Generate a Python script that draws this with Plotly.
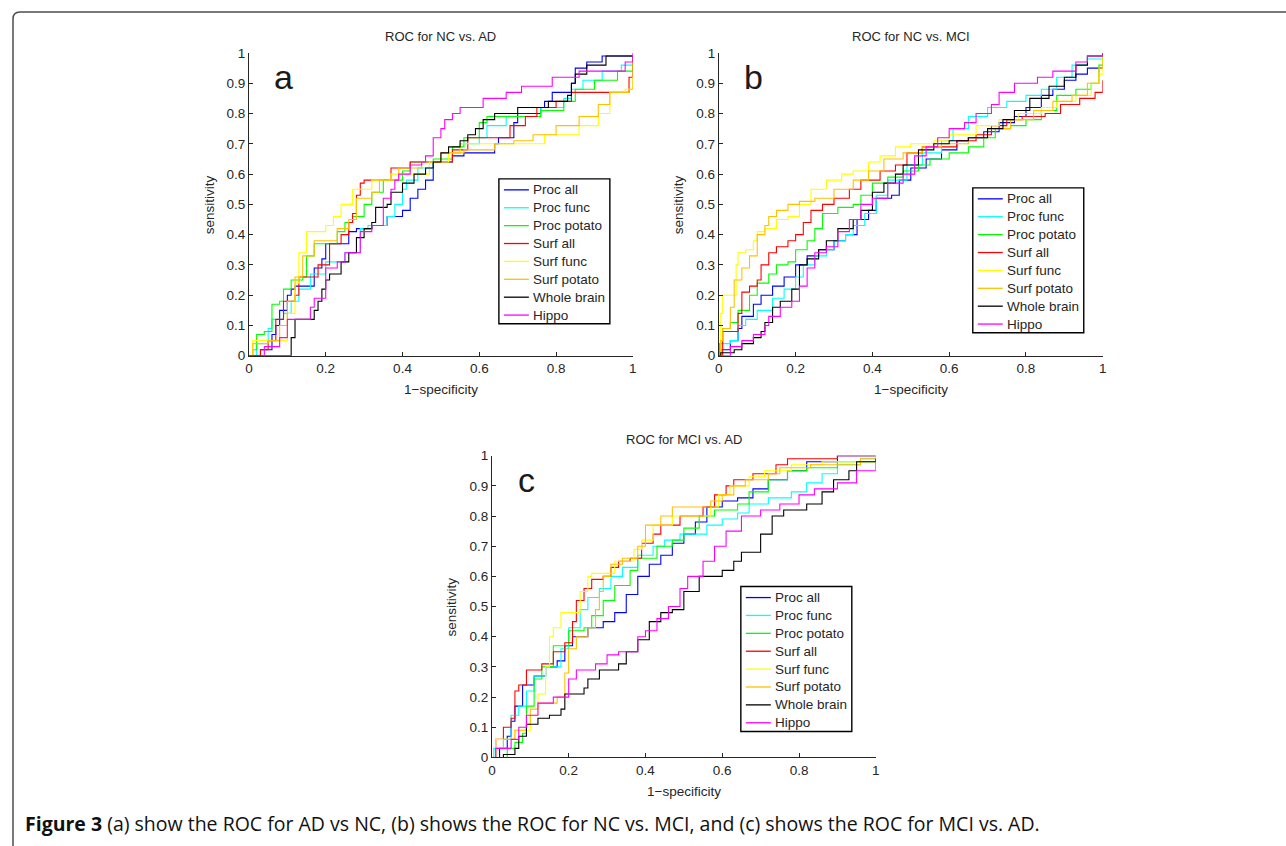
import plotly.graph_objects as go

W, H = 1286, 846

methods = ["Proc all", "Proc func", "Proc potato", "Surf all",
           "Surf func", "Surf potato", "Whole brain", "Hippo"]
colors = ["#0000ff", "#00ffff", "#00ff00", "#ff0000",
          "#ffff00", "#ffc000", "#000000", "#ff00ff"]

panel_titles = ["ROC for NC vs. AD", "ROC for NC vs. MCI", "ROC for MCI vs. AD"]
panel_letters = ["a", "b", "c"]
x_ticks = [0, 0.2, 0.4, 0.6, 0.8, 1]
y_ticks = [0, 0.1, 0.2, 0.3, 0.4, 0.5, 0.6, 0.7, 0.8, 0.9, 1]

# ROC points [1-specificity, sensitivity] (step corners)
# panel a: NC vs AD
a_proc_all = [[0, 0], [0.03, 0.02], [0.06, 0.07], [0.07, 0.1], [0.08, 0.15], [0.1, 0.2],
              [0.11, 0.22], [0.12, 0.23], [0.17, 0.29], [0.19, 0.32], [0.2, 0.37], [0.26, 0.41],
              [0.28, 0.42], [0.32, 0.43], [0.36, 0.46], [0.4, 0.48], [0.42, 0.52], [0.44, 0.55],
              [0.46, 0.58], [0.48, 0.64], [0.53, 0.66], [0.56, 0.67], [0.64, 0.7], [0.65, 0.72],
              [0.69, 0.77], [0.7, 0.8], [0.76, 0.82], [0.77, 0.84], [0.79, 0.87], [0.84, 0.9],
              [0.85, 0.95], [0.88, 0.97], [0.92, 0.99], [1, 0.99]]
a_proc_func = [[0, 0], [0.02, 0.04], [0.05, 0.09], [0.06, 0.12], [0.09, 0.14], [0.11, 0.18],
               [0.13, 0.22], [0.16, 0.27], [0.2, 0.31], [0.25, 0.34], [0.29, 0.42], [0.31, 0.43],
               [0.36, 0.46], [0.38, 0.5], [0.4, 0.55], [0.41, 0.58], [0.44, 0.62], [0.48, 0.64],
               [0.53, 0.67], [0.55, 0.7], [0.6, 0.72], [0.62, 0.76], [0.67, 0.79], [0.76, 0.82],
               [0.82, 0.85], [0.84, 0.88], [0.87, 0.91], [0.92, 0.94], [0.97, 0.96], [1, 0.98]]
a_proc_potato = [[0, 0], [0.01, 0.02], [0.02, 0.07], [0.04, 0.08], [0.06, 0.17], [0.08, 0.18],
                 [0.09, 0.22], [0.11, 0.25], [0.14, 0.26], [0.15, 0.33], [0.17, 0.37], [0.23, 0.41],
                 [0.25, 0.44], [0.27, 0.46], [0.3, 0.5], [0.32, 0.54], [0.35, 0.58], [0.4, 0.61],
                 [0.42, 0.64], [0.48, 0.65], [0.53, 0.69], [0.56, 0.72], [0.6, 0.77], [0.62, 0.79],
                 [0.76, 0.81], [0.82, 0.84], [0.85, 0.88], [0.9, 0.91], [0.96, 0.94], [1, 0.99]]
a_surf_all = [[0, 0], [0.03, 0.02], [0.05, 0.05], [0.07, 0.12], [0.09, 0.18], [0.12, 0.2],
              [0.13, 0.26], [0.18, 0.3], [0.21, 0.37], [0.24, 0.4], [0.26, 0.44], [0.27, 0.47],
              [0.28, 0.53], [0.29, 0.57], [0.3, 0.58], [0.37, 0.62], [0.42, 0.64], [0.5, 0.64],
              [0.53, 0.68], [0.57, 0.72], [0.68, 0.76], [0.72, 0.79], [0.75, 0.82], [0.8, 0.84],
              [0.84, 0.87], [0.99, 0.92], [1, 0.99]]
a_surf_func = [[0, 0], [0.01, 0.05], [0.08, 0.05], [0.1, 0.14], [0.12, 0.24], [0.13, 0.34],
               [0.15, 0.41], [0.2, 0.43], [0.22, 0.46], [0.24, 0.5], [0.27, 0.55], [0.32, 0.58],
               [0.37, 0.6], [0.47, 0.64], [0.52, 0.67], [0.55, 0.7], [0.77, 0.73], [0.86, 0.76],
               [0.91, 0.8], [0.94, 0.87], [0.98, 0.88], [1, 0.92]]
a_surf_potato = [[0, 0], [0.01, 0.04], [0.05, 0.05], [0.08, 0.1], [0.1, 0.18], [0.12, 0.26],
                 [0.14, 0.33], [0.17, 0.38], [0.23, 0.42], [0.26, 0.45], [0.28, 0.52], [0.32, 0.54],
                 [0.34, 0.58], [0.39, 0.62], [0.45, 0.64], [0.5, 0.67], [0.56, 0.68], [0.64, 0.7],
                 [0.69, 0.71], [0.74, 0.73], [0.8, 0.76], [0.86, 0.79], [0.91, 0.83], [0.94, 0.87],
                 [0.99, 0.88], [1, 0.97]]
a_whole_brain = [[0, 0], [0.11, 0.06], [0.12, 0.12], [0.17, 0.15], [0.18, 0.18], [0.19, 0.22],
                 [0.2, 0.25], [0.21, 0.27], [0.24, 0.31], [0.26, 0.34], [0.28, 0.39], [0.3, 0.42],
                 [0.32, 0.44], [0.33, 0.49], [0.36, 0.5], [0.37, 0.54], [0.4, 0.57], [0.43, 0.6],
                 [0.46, 0.62], [0.48, 0.64], [0.5, 0.67], [0.52, 0.69], [0.55, 0.71], [0.57, 0.73],
                 [0.59, 0.75], [0.61, 0.78], [0.64, 0.8], [0.7, 0.82], [0.78, 0.84], [0.83, 0.86],
                 [0.84, 0.9], [0.85, 0.93], [0.88, 0.96], [0.93, 0.99], [1, 0.99]]
a_hippo = [[0, 0], [0.04, 0.03], [0.08, 0.06], [0.1, 0.12], [0.16, 0.16], [0.17, 0.19],
           [0.2, 0.29], [0.23, 0.31], [0.25, 0.34], [0.29, 0.41], [0.32, 0.43], [0.35, 0.52],
           [0.37, 0.55], [0.38, 0.58], [0.39, 0.6], [0.42, 0.63], [0.45, 0.64], [0.46, 0.66],
           [0.48, 0.72], [0.5, 0.75], [0.51, 0.78], [0.53, 0.8], [0.55, 0.82], [0.61, 0.85],
           [0.67, 0.87], [0.71, 0.89], [0.79, 0.92], [0.86, 0.94], [0.98, 0.97], [1, 1]]

# panel b: NC vs MCI
b_proc_all = [[0, 0], [0.005, 0.02], [0.03, 0.05], [0.05, 0.09], [0.06, 0.13], [0.09, 0.17],
              [0.11, 0.2], [0.14, 0.23], [0.17, 0.26], [0.2, 0.3], [0.23, 0.33], [0.26, 0.35],
              [0.3, 0.38], [0.33, 0.4], [0.36, 0.45], [0.39, 0.48], [0.41, 0.52], [0.45, 0.53],
              [0.47, 0.58], [0.5, 0.62], [0.54, 0.65], [0.58, 0.68], [0.62, 0.71], [0.65, 0.72],
              [0.69, 0.74], [0.73, 0.77], [0.77, 0.79], [0.8, 0.82], [0.84, 0.86], [0.87, 0.88],
              [0.9, 0.91], [0.93, 0.93], [0.96, 0.95], [1, 0.97]]
b_proc_func = [[0, 0], [0.005, 0.04], [0.03, 0.05], [0.05, 0.1], [0.07, 0.12], [0.1, 0.15],
               [0.14, 0.19], [0.17, 0.22], [0.2, 0.26], [0.22, 0.3], [0.25, 0.33], [0.28, 0.35],
               [0.3, 0.38], [0.33, 0.4], [0.35, 0.43], [0.38, 0.47], [0.41, 0.53], [0.44, 0.58],
               [0.49, 0.63], [0.53, 0.67], [0.58, 0.71], [0.61, 0.75], [0.65, 0.79], [0.7, 0.82],
               [0.75, 0.84], [0.8, 0.86], [0.84, 0.88], [0.88, 0.92], [0.92, 0.96], [0.96, 0.98],
               [1, 0.99]]
b_proc_potato = [[0, 0], [0.002, 0.04], [0.01, 0.09], [0.03, 0.11], [0.05, 0.15], [0.08, 0.2],
                 [0.1, 0.24], [0.13, 0.27], [0.15, 0.3], [0.18, 0.31], [0.2, 0.35], [0.23, 0.38],
                 [0.25, 0.42], [0.27, 0.47], [0.31, 0.49], [0.35, 0.5], [0.37, 0.53], [0.4, 0.57],
                 [0.44, 0.59], [0.48, 0.61], [0.52, 0.63], [0.55, 0.65], [0.6, 0.67], [0.65, 0.69],
                 [0.69, 0.72], [0.72, 0.75], [0.76, 0.76], [0.8, 0.78], [0.84, 0.81], [0.88, 0.86],
                 [0.93, 0.88], [0.97, 0.9], [0.99, 0.96], [1, 1]]
b_surf_all = [[0, 0], [0.01, 0.08], [0.04, 0.08], [0.05, 0.14], [0.06, 0.21], [0.08, 0.23],
              [0.1, 0.25], [0.11, 0.3], [0.13, 0.34], [0.15, 0.36], [0.18, 0.38], [0.2, 0.4],
              [0.22, 0.44], [0.24, 0.48], [0.27, 0.5], [0.3, 0.52], [0.34, 0.55], [0.37, 0.58],
              [0.42, 0.61], [0.46, 0.63], [0.49, 0.67], [0.53, 0.69], [0.62, 0.71], [0.67, 0.73],
              [0.71, 0.76], [0.75, 0.78], [0.79, 0.79], [0.85, 0.8], [0.89, 0.83], [0.94, 0.85],
              [0.98, 0.87], [1, 0.91]]
b_surf_func = [[0, 0], [0.005, 0.14], [0.01, 0.2], [0.03, 0.2], [0.045, 0.3], [0.05, 0.34],
               [0.07, 0.35], [0.09, 0.38], [0.1, 0.41], [0.12, 0.42], [0.15, 0.45], [0.18, 0.46],
               [0.21, 0.5], [0.24, 0.55], [0.28, 0.58], [0.32, 0.6], [0.35, 0.61], [0.39, 0.64],
               [0.42, 0.66], [0.46, 0.69], [0.5, 0.7], [0.56, 0.71], [0.6, 0.73], [0.67, 0.76],
               [0.73, 0.78], [0.78, 0.8], [0.84, 0.82], [0.88, 0.84], [0.93, 0.86], [0.97, 0.9],
               [0.99, 0.93], [1, 1]]
b_surf_potato = [[0, 0], [0.005, 0.05], [0.01, 0.09], [0.03, 0.16], [0.04, 0.25], [0.06, 0.29],
                 [0.08, 0.33], [0.1, 0.4], [0.12, 0.43], [0.13, 0.46], [0.15, 0.48], [0.18, 0.5],
                 [0.21, 0.51], [0.25, 0.52], [0.3, 0.55], [0.35, 0.58], [0.39, 0.61], [0.43, 0.65],
                 [0.48, 0.67], [0.53, 0.69], [0.58, 0.7], [0.65, 0.72], [0.7, 0.75], [0.76, 0.78],
                 [0.82, 0.81], [0.87, 0.84], [0.92, 0.86], [0.96, 0.9], [0.99, 0.95], [1, 0.99]]
b_whole_brain = [[0, 0], [0.005, 0.01], [0.04, 0.02], [0.06, 0.04], [0.09, 0.06], [0.11, 0.08],
                 [0.12, 0.11], [0.14, 0.16], [0.16, 0.18], [0.19, 0.22], [0.21, 0.3], [0.23, 0.32],
                 [0.26, 0.35], [0.28, 0.38], [0.31, 0.42], [0.35, 0.45], [0.37, 0.48], [0.4, 0.54],
                 [0.43, 0.57], [0.46, 0.6], [0.48, 0.63], [0.52, 0.68], [0.56, 0.7], [0.6, 0.71],
                 [0.65, 0.72], [0.7, 0.75], [0.74, 0.78], [0.77, 0.81], [0.81, 0.85], [0.86, 0.89],
                 [0.9, 0.92], [0.93, 0.96], [0.96, 0.99], [1, 1]]
b_hippo = [[0, 0], [0.02, 0], [0.03, 0.03], [0.06, 0.05], [0.09, 0.07], [0.12, 0.1],
           [0.13, 0.13], [0.16, 0.16], [0.19, 0.18], [0.21, 0.23], [0.23, 0.29], [0.25, 0.34],
           [0.28, 0.36], [0.31, 0.41], [0.34, 0.45], [0.37, 0.5], [0.4, 0.52], [0.44, 0.57],
           [0.48, 0.6], [0.51, 0.66], [0.54, 0.69], [0.57, 0.72], [0.6, 0.75], [0.64, 0.77],
           [0.67, 0.8], [0.71, 0.83], [0.73, 0.87], [0.77, 0.9], [0.83, 0.92], [0.87, 0.94],
           [0.93, 0.97], [0.96, 0.99], [1, 1]]

# panel c: MCI vs AD
c_proc_all = [[0, 0], [0.02, 0.03], [0.04, 0.07], [0.05, 0.12], [0.06, 0.17], [0.08, 0.24],
              [0.11, 0.27], [0.14, 0.3], [0.17, 0.32], [0.19, 0.37], [0.21, 0.4], [0.25, 0.43],
              [0.29, 0.45], [0.32, 0.48], [0.35, 0.54], [0.38, 0.6], [0.41, 0.64], [0.44, 0.67],
              [0.47, 0.71], [0.5, 0.74], [0.53, 0.78], [0.56, 0.83], [0.6, 0.85], [0.64, 0.86],
              [0.68, 0.89], [0.72, 0.92], [0.77, 0.95], [0.82, 0.98], [0.9, 1], [1, 1]]
c_proc_func = [[0, 0], [0.005, 0.03], [0.03, 0.06], [0.05, 0.14], [0.07, 0.17], [0.09, 0.22],
               [0.11, 0.27], [0.14, 0.3], [0.18, 0.36], [0.2, 0.43], [0.23, 0.49], [0.25, 0.53],
               [0.28, 0.56], [0.31, 0.6], [0.34, 0.63], [0.38, 0.67], [0.42, 0.7], [0.45, 0.72],
               [0.49, 0.74], [0.56, 0.77], [0.6, 0.79], [0.64, 0.81], [0.67, 0.84], [0.72, 0.86],
               [0.78, 0.88], [0.82, 0.91], [0.86, 0.94], [0.9, 0.97], [0.96, 0.99], [1, 1]]
c_proc_potato = [[0, 0], [0.04, 0.03], [0.06, 0.05], [0.08, 0.08], [0.09, 0.17], [0.11, 0.26],
                 [0.13, 0.3], [0.16, 0.37], [0.2, 0.42], [0.24, 0.43], [0.26, 0.47], [0.29, 0.52],
                 [0.32, 0.57], [0.36, 0.62], [0.38, 0.66], [0.43, 0.7], [0.47, 0.72], [0.5, 0.76],
                 [0.54, 0.8], [0.58, 0.82], [0.64, 0.84], [0.67, 0.88], [0.72, 0.92], [0.77, 0.95],
                 [0.82, 0.96], [0.9, 0.98], [1, 1]]
c_surf_all = [[0, 0], [0.01, 0.06], [0.03, 0.1], [0.05, 0.13], [0.06, 0.22], [0.07, 0.24],
              [0.09, 0.29], [0.13, 0.31], [0.16, 0.35], [0.19, 0.38], [0.21, 0.45], [0.22, 0.52],
              [0.24, 0.56], [0.26, 0.59], [0.29, 0.6], [0.31, 0.63], [0.33, 0.65], [0.36, 0.66],
              [0.39, 0.71], [0.42, 0.74], [0.44, 0.77], [0.49, 0.8], [0.55, 0.83], [0.58, 0.87],
              [0.61, 0.9], [0.63, 0.92], [0.68, 0.94], [0.74, 0.97], [0.77, 0.99], [0.9, 1], [1, 1]]
c_surf_func = [[0, 0], [0.01, 0.06], [0.05, 0.06], [0.06, 0.09], [0.1, 0.14], [0.12, 0.21],
               [0.14, 0.3], [0.15, 0.4], [0.16, 0.43], [0.18, 0.48], [0.23, 0.55], [0.25, 0.6],
               [0.26, 0.61], [0.32, 0.65], [0.37, 0.69], [0.39, 0.72], [0.42, 0.77], [0.47, 0.8],
               [0.57, 0.83], [0.59, 0.87], [0.62, 0.9], [0.67, 0.93], [0.71, 0.95], [0.78, 0.97],
               [0.86, 0.98], [1, 1]]
c_surf_potato = [[0, 0], [0.01, 0.03], [0.03, 0.06], [0.06, 0.09], [0.09, 0.11], [0.1, 0.16],
                 [0.12, 0.18], [0.17, 0.2], [0.19, 0.28], [0.2, 0.36], [0.22, 0.4], [0.25, 0.43],
                 [0.27, 0.49], [0.28, 0.55], [0.29, 0.6], [0.31, 0.64], [0.34, 0.66], [0.38, 0.7],
                 [0.4, 0.77], [0.44, 0.8], [0.47, 0.83], [0.57, 0.85], [0.6, 0.87], [0.63, 0.9],
                 [0.66, 0.92], [0.72, 0.94], [0.75, 0.96], [0.83, 0.97], [0.96, 0.99], [1, 1]]
c_whole_brain = [[0, 0], [0.03, 0.01], [0.06, 0.03], [0.07, 0.07], [0.09, 0.11], [0.12, 0.13],
                 [0.15, 0.14], [0.18, 0.16], [0.19, 0.21], [0.24, 0.23], [0.25, 0.26], [0.28, 0.29],
                 [0.33, 0.31], [0.35, 0.35], [0.38, 0.39], [0.41, 0.45], [0.44, 0.48], [0.47, 0.49],
                 [0.5, 0.55], [0.54, 0.6], [0.6, 0.62], [0.63, 0.65], [0.65, 0.68], [0.7, 0.74],
                 [0.73, 0.8], [0.76, 0.82], [0.82, 0.84], [0.86, 0.88], [0.89, 0.92], [0.93, 0.95],
                 [0.95, 0.98], [1, 0.99]]
c_hippo = [[0, 0], [0.01, 0.03], [0.05, 0.06], [0.07, 0.1], [0.09, 0.14], [0.12, 0.18],
           [0.16, 0.2], [0.2, 0.26], [0.22, 0.29], [0.27, 0.31], [0.3, 0.34], [0.33, 0.35],
           [0.38, 0.4], [0.4, 0.42], [0.43, 0.46], [0.46, 0.5], [0.49, 0.56], [0.51, 0.6],
           [0.55, 0.65], [0.58, 0.7], [0.61, 0.75], [0.65, 0.8], [0.7, 0.82], [0.75, 0.84],
           [0.8, 0.87], [0.84, 0.89], [0.9, 0.91], [0.95, 0.95], [1, 0.98]]

panels = [
    [a_proc_all, a_proc_func, a_proc_potato, a_surf_all, a_surf_func, a_surf_potato, a_whole_brain, a_hippo],
    [b_proc_all, b_proc_func, b_proc_potato, b_surf_all, b_surf_func, b_surf_potato, b_whole_brain, b_hippo],
    [c_proc_all, c_proc_func, c_proc_potato, c_surf_all, c_surf_func, c_surf_potato, c_whole_brain, c_hippo],
]

# plot areas in target pixels: (left, right, top, bottom)
boxes = [(248, 632, 53, 356), (718, 1102, 53, 356), (491, 875, 456, 758)]
# legend boxes (left, top) in target pixels
legend_pos = [(498, 179), (972, 188), (740, 587)]
LEG_W, LEG_H, LEG_ROW = 111, 145, 17.9

FONT = "Liberation Sans, Arial, sans-serif"
INK = "#262626"

# the page shot comes out slightly shrunk; map target pixels to figure pixels
OX, SX, OY, SY = 3, 0.994, 7, 0.983


def px(x):
    return (x - OX) / SX / W


def py(y):
    return 1 - (y - OY) / SY / H


fig = go.Figure()
annotations = []
shapes = []

for i, curves in enumerate(panels):
    suffix = "" if i == 0 else str(i + 1)
    for name, color, pts in zip(methods, colors, curves):
        fig.add_trace(go.Scatter(
            x=[p[0] for p in pts],
            y=[p[1] for p in pts],
            mode="lines",
            name=name,
            line=dict(color=color, width=1.1, shape="hv"),
            xaxis="x" + suffix,
            yaxis="y" + suffix,
            showlegend=False,
        ))

    left, right, top, bottom = boxes[i]
    axis_style = dict(
        range=[0, 1], showgrid=False, zeroline=False, showline=True,
        linecolor=INK, linewidth=1, ticks="inside", ticklen=4,
        tickcolor=INK, tickfont=dict(family=FONT, size=13.5, color=INK),
        mirror=False,
    )
    fig.update_layout({
        "xaxis" + suffix: dict(axis_style, domain=[px(left), px(right)],
                               anchor="y" + suffix, tickvals=x_ticks,
                               ticktext=[f"{t:g}" for t in x_ticks]),
        "yaxis" + suffix: dict(axis_style, domain=[py(bottom), py(top)],
                               anchor="x" + suffix, tickvals=y_ticks,
                               ticktext=[f"{t:g}" for t in y_ticks]),
    })

    cx = (left + right) / 2
    cy = (top + bottom) / 2
    annotations += [
        dict(x=px(cx), y=py(top - 16), text=panel_titles[i],
             font=dict(family=FONT, size=13, color=INK)),
        dict(x=px(cx), y=py(bottom + 34), text="1\u2212specificity",
             font=dict(family=FONT, size=13.5, color=INK)),
        dict(x=px(left - 40), y=py(cy), text="sensitivity", textangle=-90,
             font=dict(family=FONT, size=13.5, color=INK)),
        dict(x=px(left + 35), y=py(top + 24), text=panel_letters[i],
             font=dict(family=FONT, size=34, color="#1a1a1a")),
    ]

    # boxed legend, drawn the MATLAB way
    lx, ly = legend_pos[i]
    shapes.append(dict(type="rect", xref="paper", yref="paper",
                       x0=px(lx), x1=px(lx + LEG_W), y0=py(ly + LEG_H), y1=py(ly),
                       line=dict(color="#000000", width=1.4), fillcolor="white", layer="above"))
    for k, (name, color) in enumerate(zip(methods, colors)):
        yy = ly + 11 + k * LEG_ROW
        shapes.append(dict(type="line", xref="paper", yref="paper",
                           x0=px(lx + 5), x1=px(lx + 30), y0=py(yy), y1=py(yy),
                           line=dict(color=color, width=1.3), layer="above"))
        annotations.append(dict(x=px(lx + 32), y=py(yy), text=name, xanchor="left",
                                font=dict(family=FONT, size=13.5, color=INK)))

annotations.append(dict(
    x=px(22), y=py(824), xanchor="left",
    text="<b>Figure 3</b> (a) show the ROC for AD vs NC, (b) shows the ROC for NC vs. MCI, "
         "and (c) shows the ROC for MCI vs. AD.",
    font=dict(family="Open Sans, Noto Sans, sans-serif", size=19.5, color="#111111"),
))
for a in annotations:
    a.setdefault("xanchor", "center")
    a.update(xref="paper", yref="paper", yanchor="middle", showarrow=False)

# rounded frame running off the right and bottom edges
shapes.append(dict(
    type="path", xref="paper", yref="paper",
    path=f"M {px(12)},{py(860)} L {px(12)},{py(19)} Q {px(12)},{py(12)} {px(19)},{py(12)} L {px(1300)},{py(12)}",
    line=dict(color="#4d4d4d", width=1.5),
))

fig.update_layout(
    width=W, height=H,
    margin=dict(l=0, r=0, t=0, b=0),
    paper_bgcolor="white", plot_bgcolor="white",
    showlegend=False,
    annotations=annotations,
    shapes=shapes,
)

fig.write_html("out.html", config={"displayModeBar": False},
               post_script="document.body.style.margin='0';document.body.style.overflow='hidden';")
